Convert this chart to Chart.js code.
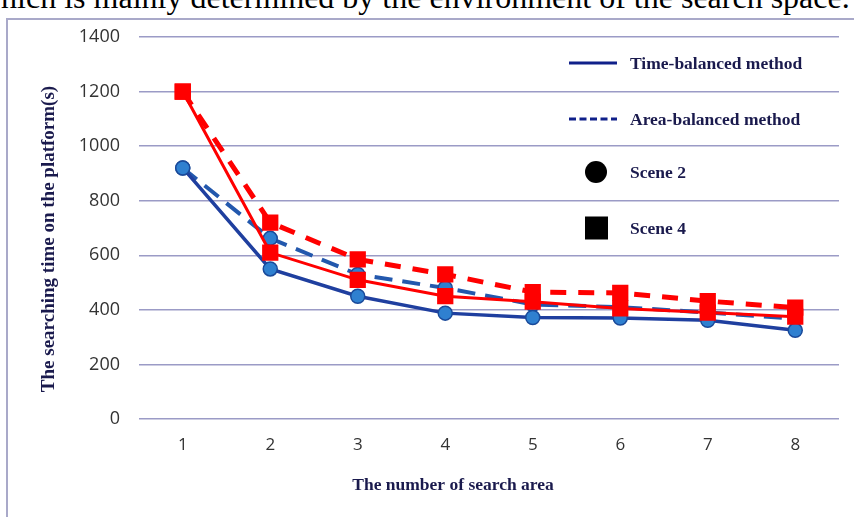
<!DOCTYPE html>
<html>
<head>
<meta charset="utf-8">
<script src="https://cdn.jsdelivr.net/npm/chart.js@4.4.0/dist/chart.umd.min.js"></script>
<style>
  html, body { margin: 0; padding: 0; background: #fff; width: 854px; height: 517px; overflow: hidden; }
  #caption { position: absolute; left: -22px; top: -19px; font: 32px "Liberation Serif", "Times New Roman", serif; line-height: 32px; white-space: nowrap; color: #000; }
  #frame { position: absolute; left: 6px; top: 18px; width: 900px; height: 600px; border-left: 2px solid #a9a9c9; border-top: 2px solid #a9a9c9; }
  #wrap { position: absolute; left: 0; top: 0; width: 854px; height: 517px; }
</style>
</head>
<body>
<div id="caption">which is mainly determined by the environment of the search space.</div>
<div id="frame"></div>
<div id="wrap"><canvas id="myChart"></canvas></div>
<script>
// number of search areas (x categories)
const areas = ['1', '2', '3', '4', '5', '6', '7', '8'];

// searching time (s)
const timeScene2 = [920, 550, 450, 388, 372, 370, 362, 325];
const areaScene2 = [920, 662, 530, 480, 420, 410, 390, 368];
const timeScene4 = [1200, 610, 510, 450, 430, 405, 390, 375];
const areaScene4 = [1200, 720, 585, 530, 465, 462, 432, 408];

const legendLabels = ['Time-balanced method', 'Area-balanced method', 'Scene 2', 'Scene 4'];
const xTitle = 'The number of search area';
const yTitle = 'The searching time on the platform(s)';

const navy = '#1f3f9f';
const dotFill = '#2f80d0';
const red = '#ff0000';
const titleColor = '#1a1a4d';
const serif = '"Liberation Serif", "Times New Roman", serif';

// legend + axis titles drawn over the plot, like the original figure
const figureLegend = {
  id: 'figureLegend',
  afterDraw(chart) {
    const ctx = chart.ctx;
    const a = chart.chartArea;
    const lx = a.left + 430;
    const tx = a.left + 491;
    const rows = [a.top + 26, a.top + 82, a.top + 135, a.top + 191];
    ctx.save();
    ctx.strokeStyle = '#10208a';
    ctx.lineWidth = 3;
    ctx.beginPath();
    ctx.moveTo(lx, rows[0]);
    ctx.lineTo(lx + 48, rows[0]);
    ctx.stroke();
    ctx.setLineDash([7, 3.5]);
    ctx.beginPath();
    ctx.moveTo(lx, rows[1]);
    ctx.lineTo(lx + 48, rows[1]);
    ctx.stroke();
    ctx.setLineDash([]);
    ctx.fillStyle = '#000';
    ctx.beginPath();
    ctx.arc(lx + 27, rows[2], 11, 0, Math.PI * 2);
    ctx.fill();
    ctx.fillRect(lx + 16, rows[3] - 11.5, 23, 23);

    ctx.fillStyle = titleColor;
    ctx.font = 'bold 17.5px ' + serif;
    ctx.textBaseline = 'middle';
    ctx.textAlign = 'left';
    legendLabels.forEach((t, i) => ctx.fillText(t, tx, rows[i] + 1));

    ctx.textAlign = 'center';
    ctx.fillText(xTitle, a.left + 314, a.bottom + 66);

    ctx.font = 'bold 19px ' + serif;
    ctx.translate(49, a.top + 202);
    ctx.rotate(-Math.PI / 2);
    ctx.fillText(yTitle, 0, 0);
    ctx.restore();
  }
};

new Chart(document.getElementById('myChart').getContext('2d'), {
  type: 'line',
  data: {
    labels: areas,
    datasets: [
      {
        label: 'Area-balanced, Scene 4',
        data: areaScene4,
        borderColor: red,
        borderWidth: 5,
        borderDash: [16, 12],
        pointStyle: 'rect',
        pointRadius: 11.5,
        pointBackgroundColor: red,
        pointBorderColor: red,
        pointBorderWidth: 0,
        fill: false,
        tension: 0
      },
      {
        label: 'Time-balanced, Scene 4',
        data: timeScene4,
        borderColor: red,
        borderWidth: 3,
        pointStyle: 'rect',
        pointRadius: 11.5,
        pointBackgroundColor: red,
        pointBorderColor: red,
        pointBorderWidth: 0,
        fill: false,
        tension: 0
      },
      {
        label: 'Time-balanced, Scene 2',
        data: timeScene2,
        borderColor: navy,
        borderWidth: 3.5,
        pointStyle: 'circle',
        pointRadius: 7,
        pointBackgroundColor: dotFill,
        pointBorderColor: '#1a4a9a',
        pointBorderWidth: 1.5,
        fill: false,
        tension: 0
      },
      {
        label: 'Area-balanced, Scene 2',
        data: areaScene2,
        borderColor: '#2358ad',
        borderWidth: 4,
        borderDash: [18, 10],
        pointStyle: 'circle',
        pointRadius: 7,
        pointBackgroundColor: dotFill,
        pointBorderColor: '#1a4a9a',
        pointBorderWidth: 1.5,
        fill: false,
        tension: 0
      }
    ]
  },
  options: {
    responsive: true,
    maintainAspectRatio: false,
    animation: false,
    devicePixelRatio: 1,
    layout: { padding: { top: 37, right: 15, left: 0, bottom: 0 } },
    plugins: {
      legend: { display: false },
      tooltip: { enabled: false }
    },
    scales: {
      x: {
        offset: true,
        grid: { display: false, drawTicks: false },
        border: { display: false },
        ticks: { color: '#333', padding: 16, font: { family: '"Open Sans", sans-serif', size: 17 } },
        afterFit(scale) { scale.height = 98; }
      },
      y: {
        min: 0,
        max: 1400,
        ticks: {
          stepSize: 200,
          color: '#333',
          padding: 19,
          font: { family: '"Open Sans", sans-serif', size: 18 },
          callback: v => String(v)
        },
        grid: { color: '#9b9bc6', lineWidth: 1.5, drawTicks: false },
        border: { display: false },
        afterFit(scale) { scale.width = 139; }
      }
    }
  },
  plugins: [figureLegend]
});
</script>
</body>
</html>
